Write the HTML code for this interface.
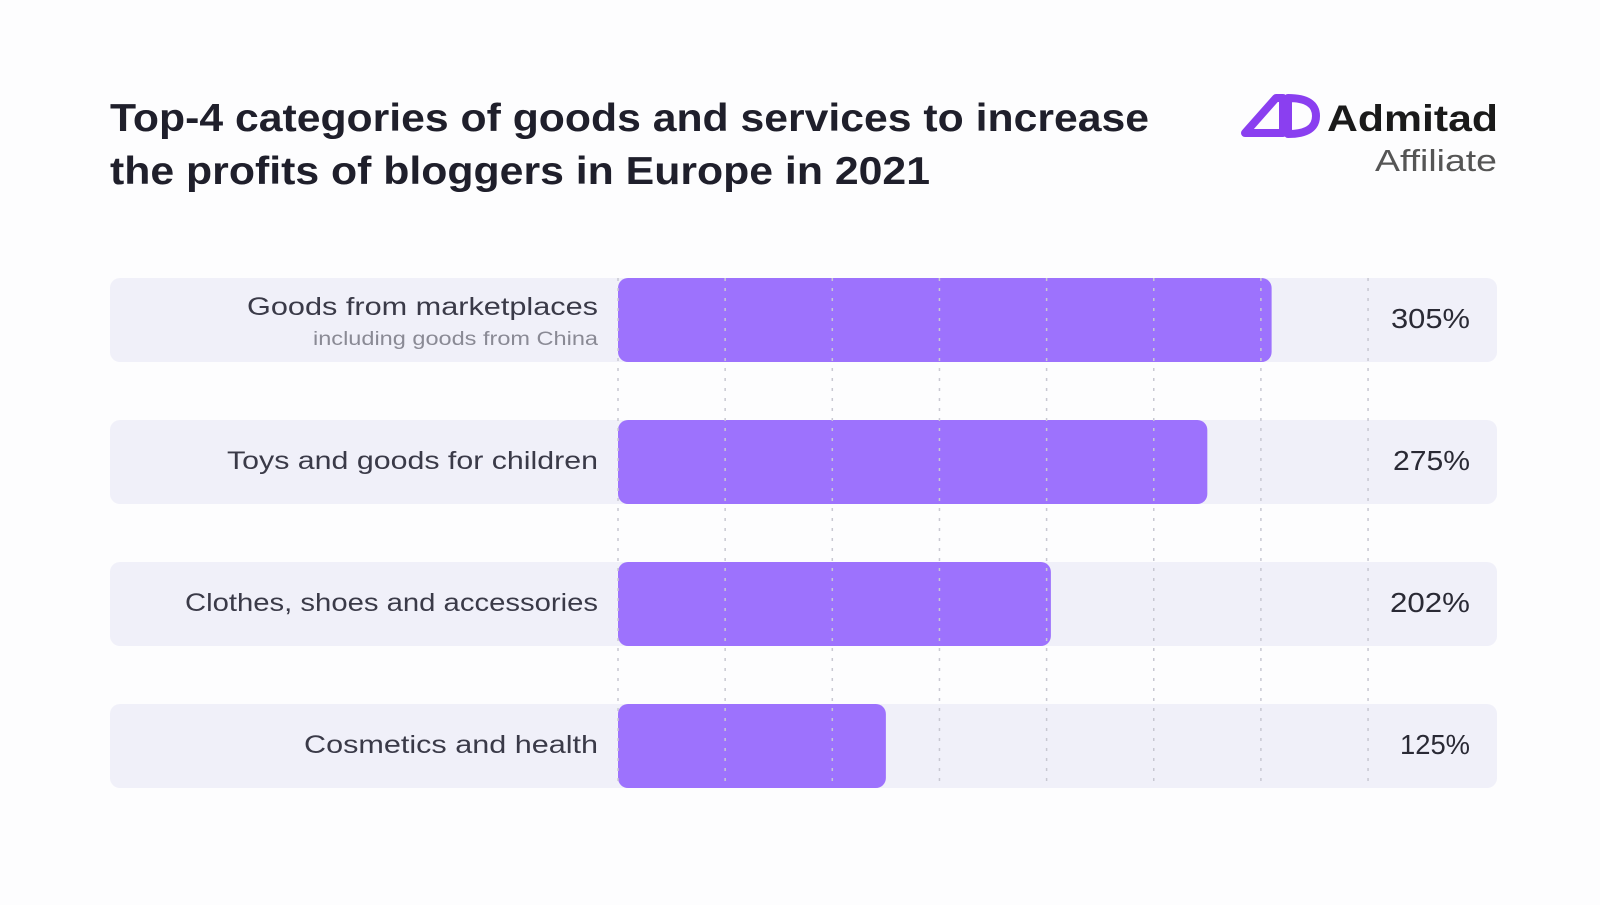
<!DOCTYPE html>
<html><head><meta charset="utf-8"><style>
body{margin:0;width:1600px;height:900px;background:#fdfdfe;font-family:"Liberation Sans",sans-serif;overflow:hidden}
</style></head><body>
<svg width="1600" height="900" id="svg">
<text x="110" y="131" font-size="39" font-weight="bold" fill="#1f1f2b" textLength="1039" lengthAdjust="spacingAndGlyphs">Top-4 categories of goods and services to increase</text>
<text x="110" y="184" font-size="39" font-weight="bold" fill="#1f1f2b" textLength="820" lengthAdjust="spacingAndGlyphs">the profits of bloggers in Europe in 2021</text>
<g>
<path d="M1245 133 L1276 98 L1283 98 L1283 133 Z M1288 98 Q1316 98 1316 116 Q1316 134 1288 134 Z" fill="none" stroke="#8a3ff0" stroke-width="8" stroke-linejoin="round"/>
<text x="1327" y="131" font-size="37" font-weight="bold" fill="#1a1a1a" textLength="171" lengthAdjust="spacingAndGlyphs">Admitad</text>
<text x="1375" y="171" font-size="31" fill="#555" textLength="122" lengthAdjust="spacingAndGlyphs">Affiliate</text>
</g>
<g id="rows"></g><g id="grid"></g><g id="labels"></g>
</svg>
<script>
const categories=["Goods from marketplaces","Toys and goods for children","Clothes, shoes and accessories","Cosmetics and health"];
const subLabels=["including goods from China","","",""];
const values=[305,275,202,125];
const valueLabels=["305%","275%","202%","125%"];
const gridTicks=[0,50,100,150,200,250,300,350];
const labelWidths=[351,371,413,294];
const valueWidths=[79,77,80,70];
const NS="http://www.w3.org/2000/svg";
const x0=618,scale=2.143;
const xs=v=>x0+v*scale;
const rowY=i=>278+i*142;
function mk(tag,attrs,parent,txt){const e=document.createElementNS(NS,tag);for(const k in attrs)e.setAttribute(k,attrs[k]);if(txt!==undefined)e.textContent=txt;document.getElementById(parent).appendChild(e);return e;}
categories.forEach((c,i)=>{
 const y=rowY(i);
 const bg=mk('rect',{x:110,y:y,width:1387,height:84,rx:10,fill:'#f0f0f9'},'rows');
 
 
 const b=mk('rect',{x:x0,y:y,width:xs(values[i])-x0,height:84,rx:10,fill:'#9d72fd'},'rows');
 
 
 const sub=subLabels[i];
 const l=mk('text',{x:598,y:sub?y+37:y+49,'text-anchor':'end','font-size':25,fill:'#3a3a48',textLength:labelWidths[i],lengthAdjust:'spacingAndGlyphs'},'labels',c);
 
 
 if(sub){const s=mk('text',{x:598,y:y+67,'text-anchor':'end','font-size':19,fill:'#8a8a95',textLength:285,lengthAdjust:'spacingAndGlyphs'},'labels',sub);
 
 }
 const v=mk('text',{x:1470,y:y+50,'text-anchor':'end','font-size':28,fill:'#2a2a35',textLength:valueWidths[i],lengthAdjust:'spacingAndGlyphs'},'labels',valueLabels[i]);
 
 
});
gridTicks.forEach(t=>{
 const g=mk('line',{x1:xs(t),x2:xs(t),y1:278,y2:787,stroke:'#c8c8d2','stroke-width':1.5,'stroke-dasharray':'3 7'},'grid');
 
 
});
</script>
</body></html>
